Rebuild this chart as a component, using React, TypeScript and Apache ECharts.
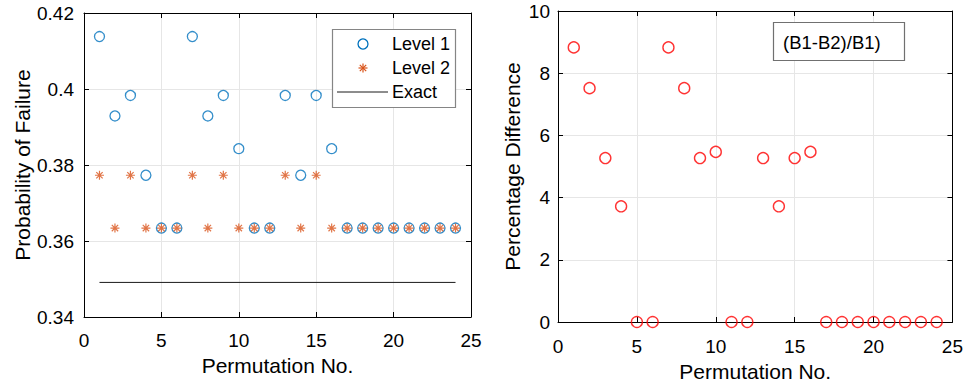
import React, { useEffect, useRef } from "react";
import * as echarts from "echarts";

const permutations = [1, 2, 3, 4, 5, 6, 7, 8, 9, 10, 11, 12, 13, 14, 15, 16, 17, 18, 19, 20, 21, 22, 23, 24];
const level1 = [0.4138, 0.3929, 0.3983, 0.3773, 0.3634, 0.3634, 0.4138, 0.3929, 0.3983, 0.3843, 0.3634, 0.3634, 0.3983, 0.3773, 0.3983, 0.3843, 0.3634, 0.3634, 0.3634, 0.3634, 0.3634, 0.3634, 0.3634, 0.3634];
const level2 = [0.3773, 0.3634, 0.3773, 0.3634, 0.3634, 0.3634, 0.3773, 0.3634, 0.3773, 0.3634, 0.3634, 0.3634, 0.3773, 0.3634, 0.3773, 0.3634, 0.3634, 0.3634, 0.3634, 0.3634, 0.3634, 0.3634, 0.3634, 0.3634];
const exactValue = 0.3491;
const pctDiff = [8.83, 7.52, 5.27, 3.72, 0, 0, 8.83, 7.52, 5.27, 5.47, 0, 0, 5.27, 3.72, 5.27, 5.47, 0, 0, 0, 0, 0, 0, 0, 0];

const xTicks = [0, 5, 10, 15, 20, 25];
const leftYTicks = [0.34, 0.36, 0.38, 0.4, 0.42];
const rightYTicks = [0, 2, 4, 6, 8, 10];

const legendLabels = ["Level 1", "Level 2", "Exact"];
const annotationText = "(B1-B2)/B1)";

const FONT = '"Liberation Sans", Arial, Helvetica, sans-serif';
const BLUE = "#0072BD";
const ORANGE = "#D95319";
const GRIDC = "#e6e6e6";
const ASTERISK = "path://M0,-1L0,1M-1,0L1,0M-0.707,-0.707L0.707,0.707M-0.707,0.707L0.707,-0.707";
const TICK_FS = 19;
const TITLE_FS = 21;

function mainX(gridIndex: number, nameGap: number, margin: number) {
  return {
    gridIndex,
    type: "value",
    position: "bottom",
    min: xTicks[0],
    max: xTicks[xTicks.length - 1],
    interval: xTicks[1] - xTicks[0],
    name: "Permutation No.",
    nameLocation: "middle",
    nameGap,
    nameTextStyle: { fontSize: TITLE_FS, color: "#000", fontFamily: FONT },
    axisLine: { show: true, onZero: false, lineStyle: { color: "#000", width: 1 } },
    axisTick: { show: true, inside: true, length: 5, lineStyle: { color: "#000", width: 1 } },
    axisLabel: { fontSize: TICK_FS, color: "#000", margin, fontFamily: FONT },
    splitLine: { show: true, lineStyle: { color: GRIDC, width: 1 } },
  };
}
function topX(gridIndex: number) {
  return {
    gridIndex,
    type: "value",
    position: "top",
    min: xTicks[0],
    max: xTicks[xTicks.length - 1],
    interval: xTicks[1] - xTicks[0],
    axisLine: { show: true, onZero: false, lineStyle: { color: "#000", width: 1 } },
    axisTick: { show: true, inside: true, length: 5, lineStyle: { color: "#000", width: 1 } },
    axisLabel: { show: false },
    splitLine: { show: false },
  };
}
function mainY(gridIndex: number, ticks: number[], name: string, nameGap: number, margin: number) {
  return {
    gridIndex,
    type: "value",
    position: "left",
    min: ticks[0],
    max: ticks[ticks.length - 1],
    interval: Math.round((ticks[1] - ticks[0]) * 1000) / 1000,
    name,
    nameLocation: "middle",
    nameGap,
    nameTextStyle: { fontSize: TITLE_FS, color: "#000", fontFamily: FONT },
    axisLine: { show: true, onZero: false, lineStyle: { color: "#000", width: 1 } },
    axisTick: { show: true, inside: true, length: 5, lineStyle: { color: "#000", width: 1 } },
    axisLabel: {
      fontSize: TICK_FS,
      color: "#000",
      margin,
      fontFamily: FONT,
      formatter: (v: number) => String(parseFloat(v.toFixed(4))),
    },
    splitLine: { show: true, lineStyle: { color: GRIDC, width: 1 } },
  };
}
function rightY(gridIndex: number, ticks: number[]) {
  return {
    gridIndex,
    type: "value",
    position: "right",
    min: ticks[0],
    max: ticks[ticks.length - 1],
    interval: Math.round((ticks[1] - ticks[0]) * 1000) / 1000,
    axisLine: { show: true, onZero: false, lineStyle: { color: "#000", width: 1 } },
    axisTick: { show: true, inside: true, length: 5, lineStyle: { color: "#000", width: 1 } },
    axisLabel: { show: false },
    splitLine: { show: false },
  };
}

export default function App() {
  const ref = useRef<HTMLDivElement>(null);
  useEffect(() => {
    if (!ref.current) return;
    const chart = echarts.init(ref.current, undefined, { renderer: "svg" });
    const legendX = 332;
    const legendY = 29;
    const option = {
      animation: false,
      backgroundColor: "#fff",
      textStyle: { fontFamily: FONT },
      grid: [
        { left: 84, top: 13, width: 387, height: 304 },
        { left: 558, top: 11, width: 399, height: 311 },
      ],
      xAxis: [mainX(0, 33, 14), topX(0), mainX(1, 36, 15), topX(1)],
      yAxis: [
        mainY(0, leftYTicks, "Probability of Failure", 51, 10),
        rightY(0, leftYTicks),
        mainY(1, rightYTicks, "Percentage Difference", 35, 8),
        rightY(1, rightYTicks),
      ],
      series: [
        {
          name: legendLabels[2],
          type: "line",
          xAxisIndex: 0,
          yAxisIndex: 0,
          data: [
            [permutations[0], exactValue],
            [permutations[permutations.length - 1], exactValue],
          ],
          symbol: "none",
          lineStyle: { color: "#1a1a1a", width: 1 },
          z: 2,
        },
        {
          name: legendLabels[0],
          type: "scatter",
          xAxisIndex: 0,
          yAxisIndex: 0,
          data: permutations.map((p, i) => [p, level1[i]]),
          symbol: "circle",
          symbolSize: 10,
          itemStyle: { color: "rgba(0,0,0,0)", borderColor: BLUE, borderWidth: 1.3 },
          z: 3,
        },
        {
          name: legendLabels[1],
          type: "scatter",
          xAxisIndex: 0,
          yAxisIndex: 0,
          data: permutations.map((p, i) => [p, level2[i]]),
          symbol: ASTERISK,
          symbolSize: 9,
          itemStyle: { color: ORANGE, borderColor: ORANGE, borderWidth: 1.2 },
          z: 4,
        },
        {
          name: "Percentage Difference",
          type: "scatter",
          xAxisIndex: 2,
          yAxisIndex: 2,
          data: permutations.map((p, i) => [p, pctDiff[i]]),
          symbol: "circle",
          symbolSize: 11,
          clip: false,
          itemStyle: { color: "rgba(0,0,0,0)", borderColor: "#ff0000", borderWidth: 1.4 },
          z: 3,
        },
      ],
      graphic: [
        {
          type: "rect",
          z: 100,
          shape: { x: legendX + 0.5, y: legendY + 0.5, width: 123, height: 78 },
          style: { fill: "#fff", stroke: "#858585", lineWidth: 1.2 },
        },
        {
          type: "circle",
          z: 101,
          shape: { cx: 363, cy: 44, r: 5 },
          style: { fill: "none", stroke: BLUE, lineWidth: 1.3 },
        },
        { type: "line", z: 101, shape: { x1: 363, y1: 63.5, x2: 363, y2: 72.5 }, style: { stroke: ORANGE, lineWidth: 1.2 } },
        { type: "line", z: 101, shape: { x1: 358.5, y1: 68, x2: 367.5, y2: 68 }, style: { stroke: ORANGE, lineWidth: 1.2 } },
        { type: "line", z: 101, shape: { x1: 359.8, y1: 64.8, x2: 366.2, y2: 71.2 }, style: { stroke: ORANGE, lineWidth: 1.2 } },
        { type: "line", z: 101, shape: { x1: 359.8, y1: 71.2, x2: 366.2, y2: 64.8 }, style: { stroke: ORANGE, lineWidth: 1.2 } },
        { type: "line", z: 101, shape: { x1: 337, y1: 92, x2: 388, y2: 92 }, style: { stroke: "#1a1a1a", lineWidth: 1 } },
        {
          type: "text", z: 101, x: 392, y: 44,
          style: { text: legendLabels[0], fontSize: 18, fontFamily: FONT, fill: "#000", verticalAlign: "middle", align: "left" },
        },
        {
          type: "text", z: 101, x: 392, y: 68,
          style: { text: legendLabels[1], fontSize: 18, fontFamily: FONT, fill: "#000", verticalAlign: "middle", align: "left" },
        },
        {
          type: "text", z: 101, x: 392, y: 92,
          style: { text: legendLabels[2], fontSize: 18, fontFamily: FONT, fill: "#000", verticalAlign: "middle", align: "left" },
        },
        {
          type: "rect",
          z: 100,
          shape: { x: 773.5, y: 22.5, width: 131, height: 38 },
          style: { fill: "#fff", stroke: "#707070", lineWidth: 1.2 },
        },
        {
          type: "text", z: 101, x: 783, y: 42,
          style: { text: annotationText, fontSize: 18.5, fontFamily: FONT, fill: "#000", verticalAlign: "middle", align: "left" },
        },
      ],
    };
    chart.setOption(option as any);
    return () => chart.dispose();
  }, []);
  return (
    <div
      ref={ref}
      style={{ position: "fixed", left: 0, top: 0, width: 966, height: 387, background: "#fff" }}
    />
  );
}
